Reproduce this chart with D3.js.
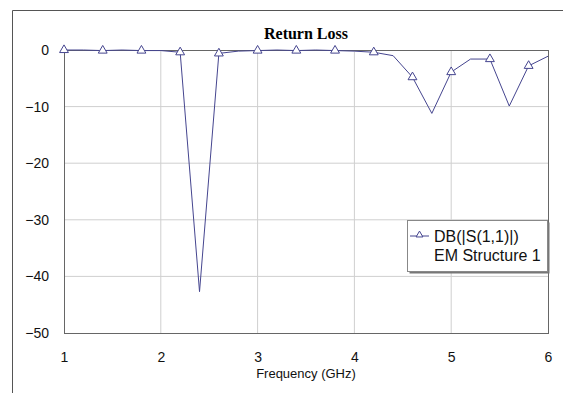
<!DOCTYPE html>
<html>
<head>
<meta charset="utf-8">
<script src="https://cdn.jsdelivr.net/npm/d3@7"></script>
<style>
  body { margin: 0; background: #fff; }
  svg { display: block; }
</style>
</head>
<body>
<div id="container"></div>
<script>
// frequency sweep (GHz) and return loss (dB)
const freqs = [1.0, 1.2, 1.4, 1.6, 1.8, 2.0, 2.2, 2.4, 2.6, 2.8, 3.0, 3.2, 3.4, 3.6, 3.8, 4.0, 4.2, 4.4, 4.6, 4.8, 5.0, 5.2, 5.4, 5.6, 5.8, 6.0];
const s11dB = [0, 0, -0.1, 0, -0.1, -0.1, -0.4, -42.7, -0.6, -0.2, -0.1, 0, -0.1, 0, -0.1, -0.2, -0.4, -1.0, -4.8, -11.2, -3.9, -1.6, -1.6, -9.9, -2.8, -1.1];
const markerFreqs = [1.0, 1.4, 1.8, 2.2, 2.6, 3.0, 3.4, 3.8, 4.2, 4.6, 5.0, 5.4, 5.8];
const xTicks = [1, 2, 3, 4, 5, 6];
const yTicks = [0, -10, -20, -30, -40, -50];
const legendLines = ['DB(|S(1,1)|)', 'EM Structure 1'];

const W = 563, H = 393;
const margin = { top: 50, right: 15, bottom: 60, left: 64 };
const width = W - margin.left - margin.right;
const height = H - margin.top - margin.bottom;
const lineColor = '#45458f';

const data = freqs.map((f, i) => ({ f: f, v: s11dB[i] }));
const marks = data.filter(d => markerFreqs.some(m => Math.abs(m - d.f) < 1e-6));

const svg = d3.select('#container')
    .append('svg')
    .attr('width', W)
    .attr('height', H);

// outer frame
svg.append('path')
    .attr('d', `M12.5,${H} V10.5 H${W}`)
    .attr('fill', 'none')
    .attr('stroke', '#555')
    .attr('stroke-width', 1);

const g = svg.append('g')
    .attr('transform', `translate(${margin.left},${margin.top})`);

const x = d3.scaleLinear().domain([1, 6]).range([0, width]);
const y = d3.scaleLinear().domain([-50, 0]).range([height, 0]);

// grid
g.append('g').selectAll('line')
    .data(xTicks.slice(1, -1))
    .enter().append('line')
    .attr('x1', d => x(d)).attr('x2', d => x(d))
    .attr('y1', 0).attr('y2', height)
    .attr('stroke', '#cfcfcf');

g.append('g').selectAll('line')
    .data(yTicks.slice(1, -1))
    .enter().append('line')
    .attr('x1', 0).attr('x2', width)
    .attr('y1', d => y(d)).attr('y2', d => y(d))
    .attr('stroke', '#cfcfcf');

// plot frame
g.append('rect')
    .attr('x', 0.5).attr('y', 0.5)
    .attr('width', width).attr('height', height)
    .attr('fill', 'none')
    .attr('stroke', '#666');

// axes (labels only)
const xAxis = d3.axisBottom(x).tickValues(xTicks).tickSize(0).tickPadding(19).tickFormat(d3.format('d'));
const yAxis = d3.axisLeft(y).tickValues(yTicks).tickSize(0).tickPadding(15).tickFormat(d3.format('d'));

const gx = g.append('g').attr('transform', `translate(0,${height})`).call(xAxis);
const gy = g.append('g').call(yAxis);
[gx, gy].forEach(a => {
    a.select('.domain').remove();
    a.selectAll('text')
        .attr('fill', '#111')
        .style('font-family', 'Liberation Sans, Arial, sans-serif')
        .style('font-size', '14px');
});

// trace
const line = d3.line().x(d => x(d.f)).y(d => y(d.v));
g.append('path')
    .datum(data)
    .attr('d', line)
    .attr('fill', 'none')
    .attr('stroke', lineColor)
    .attr('stroke-width', 1);

const tri = d3.symbol().type(d3.symbolTriangle).size(34);
g.selectAll('.mk')
    .data(marks)
    .enter().append('path')
    .attr('class', 'mk')
    .attr('transform', d => `translate(${x(d.f)},${y(d.v)})`)
    .attr('d', tri)
    .attr('fill', '#fff')
    .attr('stroke', lineColor)
    .attr('stroke-width', 1);

// title
svg.append('text')
    .attr('x', margin.left + width / 2)
    .attr('y', 39)
    .attr('text-anchor', 'middle')
    .style('font-family', 'Liberation Serif, Times New Roman, serif')
    .style('font-weight', 'bold')
    .style('font-size', '16px')
    .text('Return Loss');

svg.append('text')
    .attr('x', margin.left + width / 2)
    .attr('y', 378)
    .attr('text-anchor', 'middle')
    .style('font-family', 'Liberation Sans, Arial, sans-serif')
    .style('font-size', '13px')
    .attr('fill', '#111')
    .text('Frequency (GHz)');

// legend
const lg = svg.append('g').attr('transform', 'translate(407,220)');
lg.append('rect')
    .attr('x', 2.5).attr('y', 2.5)
    .attr('width', 140).attr('height', 51)
    .attr('fill', '#777');
lg.append('rect')
    .attr('x', 0.5).attr('y', 0.5)
    .attr('width', 140).attr('height', 51)
    .attr('fill', '#fff')
    .attr('stroke', '#888');
lg.append('line')
    .attr('x1', 3).attr('x2', 22)
    .attr('y1', 16).attr('y2', 16)
    .attr('stroke', lineColor);
lg.append('path')
    .attr('transform', 'translate(12.5,15)')
    .attr('d', d3.symbol().type(d3.symbolTriangle).size(20))
    .attr('fill', '#fff')
    .attr('stroke', lineColor);
lg.selectAll('.lt')
    .data(legendLines)
    .enter().append('text')
    .attr('class', 'lt')
    .attr('x', 27)
    .attr('y', (d, i) => 22 + i * 19)
    .style('font-family', 'Liberation Sans, Arial, sans-serif')
    .style('font-size', '16px')
    .attr('fill', '#111')
    .text(d => d);
</script>
</body>
</html>
